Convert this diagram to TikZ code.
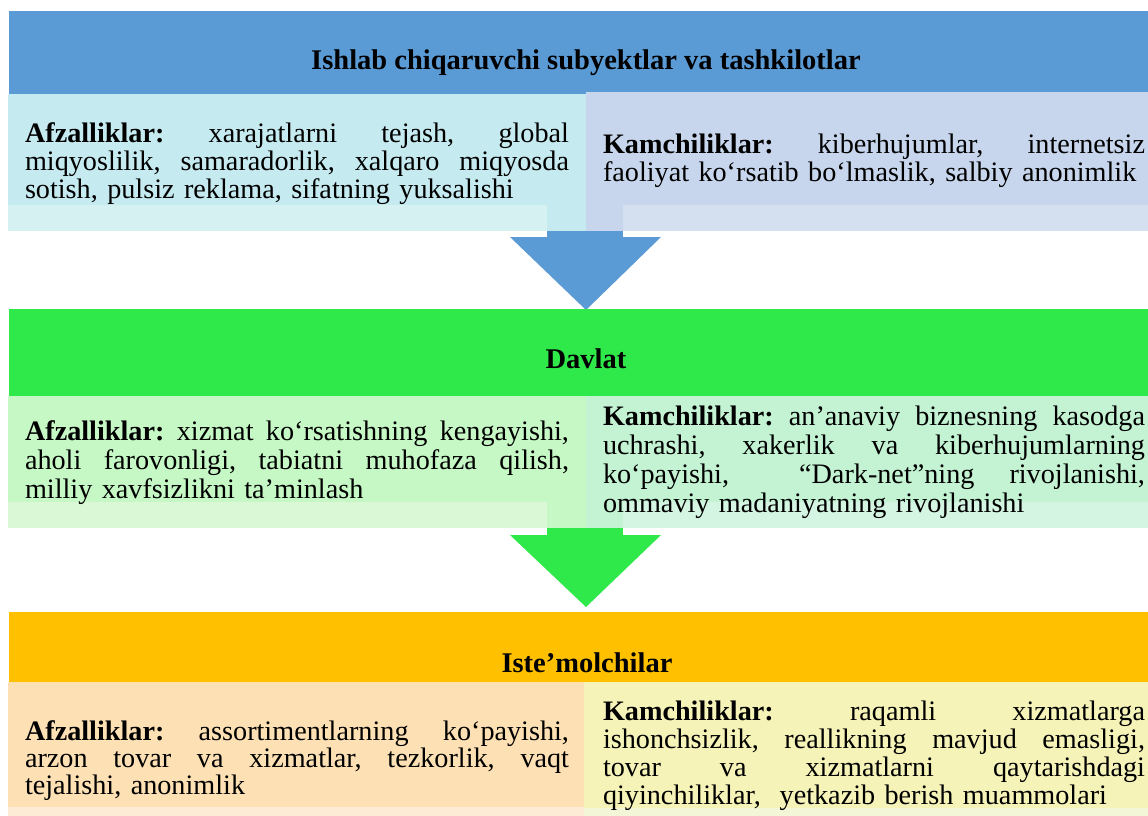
\documentclass[tikz,border=0pt]{standalone}
\usepackage{fontspec}
\setmainfont{Liberation Serif}
\frenchspacing
\definecolor{bband}{HTML}{5B9BD5}
\definecolor{bL}{HTML}{C5EAF0}
\definecolor{bLs}{HTML}{D5F1F2}
\definecolor{bR}{HTML}{C7D6EC}
\definecolor{bRs}{HTML}{D4DFEF}
\definecolor{gband}{HTML}{2FE84A}
\definecolor{gL}{HTML}{C6F8C5}
\definecolor{gLs}{HTML}{DAF8D5}
\definecolor{gR}{HTML}{C4F3D4}
\definecolor{gRs}{HTML}{D4F5E2}
\definecolor{oband}{HTML}{FFC000}
\definecolor{oL}{HTML}{FDE1B4}
\definecolor{oLs}{HTML}{FDEBD5}
\definecolor{oR}{HTML}{F5F3B8}
\definecolor{oRs}{HTML}{F3F7D8}
\newcommand{\jll}[1]{\leavevmode\hbox to 544pt{\spaceskip=0pt\xspaceskip=0pt\frenchspacing #1}}
\newcommand{\jlr}[1]{\leavevmode\hbox to 542pt{\spaceskip=0pt\xspaceskip=0pt\frenchspacing #1}}
\begin{document}
\begin{tikzpicture}[x=1pt,y=-1pt,
  titletext/.style={anchor=base, inner sep=0pt, outer sep=0pt, font=\fontsize{28.5}{28.5}\selectfont\bfseries},
  lbody/.style={anchor=base west, inner sep=0pt, outer sep=0pt, text width=546pt, font=\fontsize{28.2}{#1}\selectfont\frenchspacing},
  rbody/.style={anchor=base west, inner sep=0pt, outer sep=0pt, text width=544pt, font=\fontsize{28.2}{#1}\selectfont\frenchspacing}]
\useasboundingbox (0,0) rectangle (1148,816);
\fill[white] (0,0) rectangle (1148,816);
% arrows
\fill[bband] (547,200) rectangle (623,237);
\fill[bband] (510,237) -- (661,237) -- (586,310) -- cycle;
\fill[gband] (547,500) rectangle (623,535);
\fill[gband] (510,535) -- (661,535) -- (586,607) -- cycle;
% bands
\fill[bband] (9,11) rectangle (1148,94);
\fill[gband] (9,309) rectangle (1148,396);
\fill[oband] (9,612) rectangle (1148,682);
% section 1 boxes
\fill[bL] (8,94) rectangle (586,231);
\fill[bLs] (8,205) rectangle (547,231);
\fill[bR] (586,92) rectangle (1148,231);
\fill[bRs] (623,205) rectangle (1148,231);
% section 2 boxes
\fill[gL] (8,396) rectangle (586,528);
\fill[gLs] (8,502) rectangle (547,528);
\fill[gR] (586,396) rectangle (1148,528);
\fill[gRs] (623,502) rectangle (1148,528);
% section 3 boxes
\fill[oL] (8,682) rectangle (584,816);
\fill[oLs] (8,807) rectangle (584,816);
\fill[oR] (584,682) rectangle (1148,816);
\fill[oRs] (584,808) rectangle (1148,816);
% titles
\node[titletext] (t1) at (586,70) {Ishlab chiqaruvchi subyektlar va tashkilotlar};
\node[titletext] (t2) at (586,368) {Davlat};
\node[titletext] (t3) at (587,672) {Iste’molchilar};
% section 1 text
\node[lbody=28.2] (b1l) at (25,142) {\jll{\textbf{Afzalliklar:} xarajatlarni tejash, global}\\
\jll{miqyoslilik, samaradorlik, xalqaro miqyosda}\\
sotish, pulsiz reklama, sifatning yuksalishi};
\node[rbody=28.5] (b1r) at (603,153) {\jlr{\textbf{Kamchiliklar:} kiberhujumlar, internetsiz}\\
faoliyat ko‘rsatib bo‘lmaslik, salbiy anonimlik};
% section 2 text
\node[lbody=29] (b2l) at (25,440) {\jll{\textbf{Afzalliklar:} xizmat ko‘rsatishning kengayishi,}\\
\jll{aholi farovonligi, tabiatni muhofaza qilish,}\\
milliy xavfsizlikni ta’minlash};
\node[rbody=29.3] (b2r) at (603,425) {\jlr{\textbf{Kamchiliklar:} an’anaviy biznesning kasodga}\\
\jlr{uchrashi, xakerlik va kiberhujumlarning}\\
\jlr{ko‘payishi,\ \ “Dark-net”ning rivojlanishi,}\\
ommaviy madaniyatning rivojlanishi};
% section 3 text
\node[lbody=27] (b3l) at (25,740) {\jll{\textbf{Afzalliklar:} assortimentlarning ko‘payishi,}\\
\jll{arzon tovar va xizmatlar, tezkorlik, vaqt}\\
tejalishi, anonimlik};
\node[rbody=28.2] (b3r) at (603,720) {\jlr{\textbf{Kamchiliklar:} raqamli xizmatlarga}\\
\jlr{ishonchsizlik, reallikning mavjud emasligi,}\\
\jlr{tovar va xizmatlarni qaytarishdagi}\\
qiyinchiliklar,\ \ yetkazib berish muammolari};
\end{tikzpicture}
\end{document}
